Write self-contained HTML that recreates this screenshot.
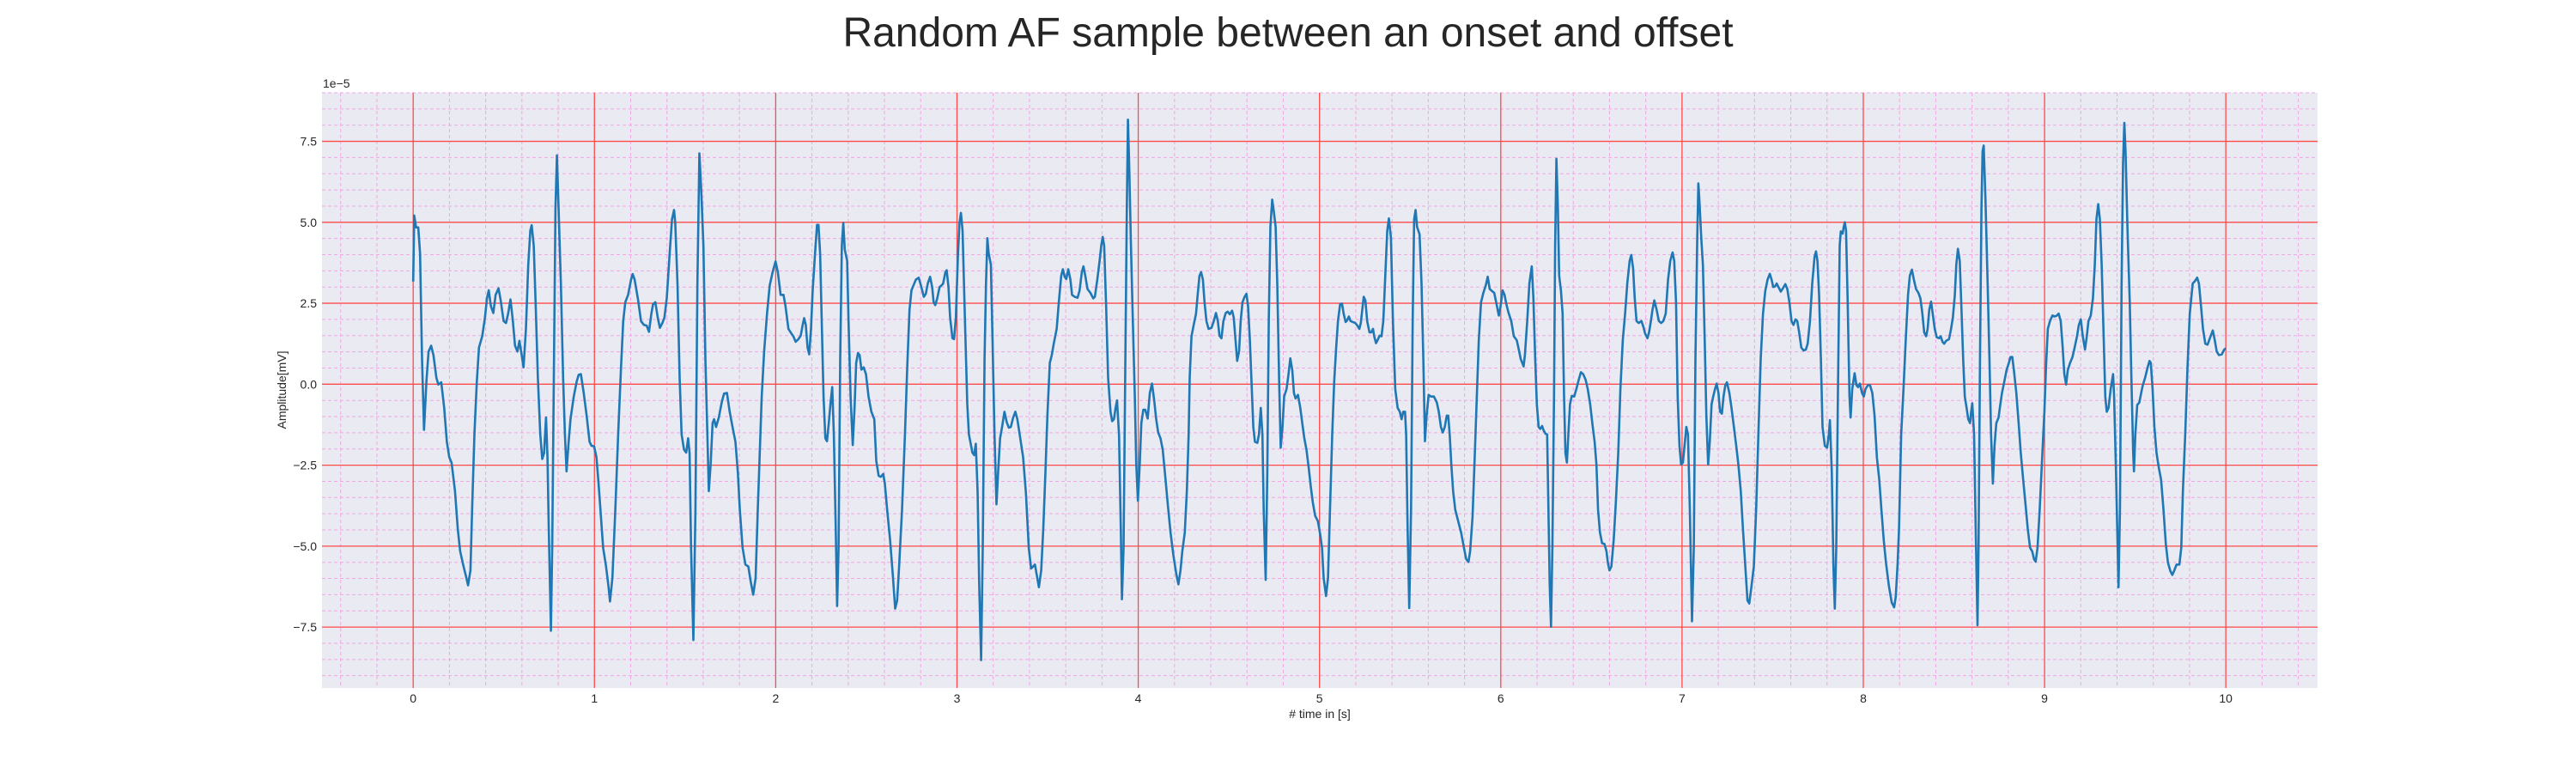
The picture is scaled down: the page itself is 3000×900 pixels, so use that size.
<!DOCTYPE html>
<html><head><meta charset="utf-8"><style>
html,body{margin:0;padding:0;background:#fff;}
svg{display:block;font-family:"Liberation Sans",Arial,sans-serif;}
</style></head><body>
<svg id="chart" width="3000" height="900" viewBox="0 0 3000 900" xmlns="http://www.w3.org/2000/svg">
<rect x="0" y="0" width="3000" height="900" fill="#fff"/>
<text x="1500" y="54" text-anchor="middle" font-size="48" fill="#262626">Random AF sample between an onset and offset</text>
<rect x="375" y="108" width="2324" height="693" fill="#eaeaf2"/>
<g id="minor"></g>
<g id="major"></g>
<g id="ticks"></g>
<text x="376" y="102" font-size="14" fill="#262626">1e−5</text>
<text x="1537" y="836" text-anchor="middle" font-size="14" fill="#262626"># time in [s]</text>
<text transform="translate(333,454) rotate(-90)" text-anchor="middle" font-size="14" fill="#262626">Amplitude[mV]</text>
<path id="sig" fill="none" stroke="#1f77b4" stroke-width="2.6" stroke-linejoin="round"/>
</svg>
<script>
const xTicks=[0,1,2,3,4,5,6,7,8,9,10];
const yTicks=[-7.5,-5.0,-2.5,0.0,2.5,5.0,7.5];
const yTickLabels=["−7.5","−5.0","−2.5","0.0","2.5","5.0","7.5"];
const times=[0.00,0.006,0.016,0.028,0.038,0.049,0.060,0.073,0.085,0.099,0.112,0.128,0.139,0.155,0.171,0.186,0.199,0.212,0.231,0.246,0.259,0.278,0.291,0.303,0.316,0.325,0.338,0.351,0.363,0.381,0.396,0.407,0.417,0.429,0.442,0.455,0.471,0.483,0.499,0.512,0.524,0.537,0.549,0.562,0.575,0.586,0.597,0.609,0.622,0.635,0.646,0.654,0.665,0.676,0.688,0.701,0.712,0.722,0.733,0.741,0.748,0.760,0.767,0.777,0.785,0.793,0.802,0.815,0.827,0.837,0.846,0.856,0.868,0.886,0.902,0.913,0.925,0.941,0.957,0.973,0.984,0.998,1.011,1.023,1.036,1.048,1.064,1.077,1.086,1.099,1.115,1.131,1.147,1.159,1.170,1.186,1.202,1.211,1.222,1.241,1.257,1.273,1.288,1.301,1.314,1.323,1.336,1.349,1.361,1.375,1.386,1.399,1.415,1.428,1.439,1.446,1.458,1.470,1.481,1.494,1.506,1.517,1.525,1.533,1.546,1.557,1.568,1.579,1.589,1.601,1.612,1.623,1.631,1.641,1.652,1.660,1.671,1.686,1.702,1.715,1.731,1.746,1.762,1.778,1.791,1.802,1.817,1.833,1.849,1.862,1.876,1.889,1.901,1.912,1.923,1.936,1.952,1.967,1.983,1.999,2.012,2.027,
2.043,2.054,2.070,2.086,2.097,2.110,2.125,2.138,2.149,2.157,2.166,2.176,2.185,2.195,2.204,2.217,2.228,2.236,2.245,2.255,2.264,2.274,2.283,2.293,2.302,2.312,2.321,2.331,2.339,2.347,2.356,2.365,2.373,2.381,2.394,2.402,2.413,2.425,2.435,2.444,2.454,2.463,2.473,2.485,2.498,2.512,2.528,2.544,2.555,2.568,2.580,2.593,2.602,2.615,2.631,2.647,2.659,2.670,2.681,2.697,2.713,2.726,2.738,2.749,2.760,2.773,2.789,2.801,2.817,2.828,2.839,2.852,2.863,2.871,2.880,2.891,2.904,2.915,2.924,2.936,2.943,2.953,2.962,2.975,2.984,2.994,3.006,3.014,3.022,3.031,3.044,3.057,3.066,3.076,3.085,3.095,3.104,3.114,3.123,3.133,3.142,3.152,3.160,3.168,3.175,3.187,3.196,3.207,3.218,3.227,3.238,3.249,3.262,3.275,3.286,3.297,3.310,3.322,3.333,3.349,3.365,3.381,3.396,3.409,3.420,3.430,3.439,3.452,3.465,3.476,3.488,3.499,3.512,3.523,3.534,3.550,3.562,3.575,3.584,3.594,3.603,3.614,3.626,3.635,3.649,3.665,3.676,3.689,3.698,3.708,3.720,3.736,3.752,3.761,3.774,3.787,3.796,3.804,3.812,3.823,3.834,3.847,3.856,3.866,3.875,3.883,3.894,3.904,3.910,3.919,3.929,3.937,3.943,3.951,3.960,3.970,3.981,3.989,3.998,4.008,4.017,4.028,4.039,4.052,4.064,
4.076,4.088,4.099,4.110,4.123,4.135,4.147,4.162,4.178,4.194,4.210,4.222,4.233,4.243,4.257,4.268,4.278,4.284,4.294,4.306,4.319,4.328,4.338,4.347,4.357,4.366,4.376,4.388,4.404,4.417,4.429,4.439,4.448,4.459,4.470,4.483,4.494,4.505,4.518,4.527,4.537,4.546,4.556,4.565,4.575,4.587,4.597,4.606,4.616,4.625,4.635,4.644,4.657,4.666,4.676,4.685,4.692,4.703,4.712,4.720,4.729,4.739,4.748,4.758,4.767,4.777,4.786,4.796,4.805,4.818,4.829,4.839,4.850,4.859,4.868,4.881,4.894,4.905,4.916,4.928,4.941,4.952,4.963,4.976,4.991,5.004,5.014,5.023,5.036,5.047,5.058,5.070,5.081,5.092,5.102,5.114,5.124,5.133,5.144,5.152,5.162,5.171,5.184,5.197,5.209,5.220,5.228,5.236,5.244,5.253,5.263,5.276,5.285,5.295,5.302,5.312,5.323,5.331,5.342,5.352,5.363,5.374,5.383,5.394,5.405,5.418,5.431,5.443,5.453,5.462,5.472,5.478,5.486,5.495,5.505,5.514,5.522,5.530,5.538,5.552,5.563,5.573,5.582,5.591,5.602,5.615,5.631,5.647,5.658,5.670,5.680,5.691,5.702,5.710,5.718,5.727,5.737,5.749,5.765,5.781,5.797,5.809,5.822,5.831,5.844,5.857,5.868,5.879,5.891,5.904,5.917,5.928,5.939,5.951,5.964,5.977,5.989,5.999,6.010,6.021,6.031,6.043,6.058,6.072,6.088,6.097,6.110,6.126,
6.133,6.146,6.158,6.171,6.180,6.190,6.199,6.209,6.218,6.228,6.237,6.247,6.256,6.263,6.270,6.277,6.285,6.294,6.300,6.307,6.315,6.322,6.332,6.341,6.349,6.357,6.365,6.373,6.382,6.392,6.405,6.417,6.430,6.442,6.455,6.468,6.480,6.493,6.505,6.518,6.528,6.537,6.547,6.559,6.572,6.583,6.591,6.600,6.610,6.623,6.635,6.648,6.660,6.673,6.686,6.698,6.711,6.720,6.730,6.739,6.749,6.761,6.776,6.787,6.796,6.809,6.818,6.828,6.837,6.847,6.860,6.872,6.885,6.897,6.910,6.923,6.935,6.948,6.957,6.967,6.976,6.986,6.995,7.005,7.014,7.024,7.033,7.043,7.055,7.065,7.074,7.084,7.090,7.096,7.106,7.115,7.125,7.134,7.144,7.153,7.163,7.172,7.182,7.191,7.201,7.210,7.220,7.229,7.239,7.248,7.261,7.273,7.286,7.299,7.311,7.324,7.336,7.349,7.361,7.371,7.384,7.396,7.409,7.421,7.434,7.447,7.459,7.472,7.484,7.494,7.503,7.513,7.522,7.532,7.545,7.557,7.570,7.581,7.592,7.604,7.615,7.626,7.636,7.646,7.658,7.671,7.683,7.693,7.706,7.718,7.731,7.739,7.747,7.756,7.766,7.775,7.788,7.800,7.810,7.816,7.826,7.835,7.843,7.851,7.860,7.870,7.876,7.886,7.892,7.898,7.905,7.914,7.924,7.930,7.939,7.952,7.962,7.971,7.981,7.993,8.003,8.012,8.025,8.037,8.050,8.062,8.075,8.088,8.100,8.113,8.125,8.141,8.157,8.170,8.179,8.189,
8.197,8.209,8.222,8.234,8.247,8.257,8.268,8.279,8.291,8.304,8.315,8.326,8.336,8.347,8.355,8.364,8.374,8.383,8.394,8.405,8.418,8.427,8.437,8.446,8.457,8.473,8.484,8.494,8.505,8.513,8.522,8.532,8.541,8.551,8.560,8.570,8.579,8.589,8.595,8.601,8.611,8.620,8.630,8.636,8.644,8.652,8.658,8.664,8.674,8.686,8.696,8.705,8.715,8.724,8.734,8.746,8.756,8.765,8.778,8.790,8.803,8.812,8.822,8.831,8.844,8.857,8.869,8.882,8.894,8.907,8.920,8.932,8.942,8.951,8.961,8.973,8.986,8.999,9.008,9.018,9.030,9.043,9.057,9.068,9.078,9.089,9.100,9.109,9.119,9.128,9.141,9.154,9.166,9.179,9.189,9.200,9.211,9.223,9.233,9.242,9.255,9.267,9.277,9.286,9.296,9.305,9.315,9.326,9.335,9.343,9.353,9.365,9.378,9.384,9.394,9.403,9.408,9.416,9.425,9.433,9.440,9.447,9.457,9.470,9.479,9.489,9.493,9.501,9.511,9.523,9.533,9.542,9.555,9.567,9.579,9.586,9.596,9.606,9.618,9.631,9.643,9.656,9.669,9.681,9.694,9.705,9.716,9.728,9.744,9.754,9.763,9.776,9.789,9.801,9.817,9.830,9.842,9.852,9.863,9.874,9.887,9.899,9.912,9.928,9.937,9.950,9.962,9.978,9.991,10.000];
const amps=[3.17,5.21,4.84,4.84,4.04,0.78,-1.41,0.08,1.01,1.19,0.90,0.20,-0.01,0.06,-0.73,-1.78,-2.25,-2.42,-3.30,-4.46,-5.16,-5.63,-5.92,-6.21,-5.75,-3.88,-1.55,0.08,1.13,1.48,2.06,2.65,2.90,2.41,2.20,2.76,2.96,2.59,1.95,1.89,2.18,2.62,2.00,1.19,1.01,1.34,0.96,0.52,1.71,3.69,4.74,4.91,4.28,2.41,0.20,-1.55,-2.31,-2.13,-1.03,-2.25,-4.46,-7.61,-5.05,0.78,5.44,7.07,5.44,3.11,0.20,-1.55,-2.69,-1.90,-1.08,-0.38,0.08,0.29,0.31,-0.27,-0.97,-1.78,-1.90,-1.92,-2.25,-3.07,-4.11,-5.05,-5.63,-6.21,-6.71,-5.98,-3.88,-1.55,0.55,1.95,2.53,2.76,3.23,3.40,3.23,2.59,1.95,1.83,1.81,1.62,2.18,2.47,2.53,2.06,1.74,1.89,2.06,2.65,4.04,5.09,5.38,4.98,3.11,0.20,-1.55,-2.02,-2.11,-1.67,-2.13,-5.05,-7.90,-3.88,3.11,7.13,6.03,4.28,0.78,-1.55,-3.30,-2.48,-1.20,-1.08,-1.32,-1.03,-0.56,-0.29,-0.27,-0.85,-1.32,-1.78,-2.72,-3.88,-5.05,-5.57,-5.63,-6.10,-6.50,-5.98,-3.88,-2.13,-0.38,1.01,2.18,3.05,3.46,3.79,3.46,2.76,
2.76,2.41,1.71,1.57,1.48,1.31,1.39,1.50,1.83,2.04,1.83,1.13,0.92,1.71,2.88,4.04,4.92,4.92,4.04,1.71,-0.38,-1.67,-1.76,-1.20,-0.62,-0.09,-1.55,-4.46,-6.85,-5.05,0.78,4.28,4.98,4.16,3.81,1.95,-0.38,-1.88,-0.73,0.66,0.96,0.90,0.45,0.52,0.31,-0.38,-0.85,-1.08,-2.37,-2.83,-2.86,-2.77,-3.07,-3.88,-4.81,-5.98,-6.93,-6.68,-5.63,-3.88,-1.55,0.55,2.30,2.90,3.05,3.23,3.29,3.05,2.70,2.79,3.11,3.32,3.00,2.53,2.44,2.65,3.00,3.05,3.11,3.46,3.52,3.00,2.06,1.42,1.39,2.06,4.04,4.98,5.29,4.74,1.95,-0.62,-1.55,-1.84,-2.11,-2.19,-1.84,-3.30,-6.21,-8.52,-5.05,0.78,3.11,4.51,4.04,3.69,1.36,-1.55,-3.71,-2.72,-1.67,-1.32,-0.85,-1.18,-1.34,-1.32,-1.03,-0.85,-1.08,-1.67,-2.25,-3.41,-5.05,-5.69,-5.63,-5.57,-5.86,-6.27,-5.75,-4.46,-2.72,-0.97,0.66,0.90,1.25,1.71,2.53,3.35,3.55,3.32,3.25,3.55,3.23,2.76,2.70,2.67,2.88,3.46,3.64,3.35,2.94,2.82,2.65,2.70,3.23,3.81,4.28,4.55,4.28,2.41,0.20,-0.85,-1.14,-1.08,-0.73,-0.50,-1.55,-4.46,-6.64,-5.05,0.78,5.44,8.17,6.61,4.28,1.95,-0.38,-2.48,-3.60,-2.48,-1.20,-0.79,-0.79,-1.06,-0.27,
0.02,-0.50,-1.08,-1.49,-1.67,-2.02,-2.72,-3.65,-4.58,-5.28,-5.86,-6.18,-5.75,-5.16,-4.58,-3.30,-1.55,0.20,1.48,1.83,2.18,2.76,3.35,3.46,3.23,2.53,1.95,1.71,1.74,1.95,2.20,1.95,1.50,1.42,1.95,2.20,2.24,2.16,2.27,2.06,1.36,0.72,1.01,1.95,2.53,2.70,2.79,2.41,1.36,0.08,-1.32,-1.78,-1.81,-1.55,-0.73,-1.55,-3.88,-6.04,-2.72,1.95,4.86,5.70,5.33,4.86,3.11,0.20,-1.96,-1.32,-0.38,-0.15,0.31,0.80,0.43,-0.27,-0.44,-0.33,-0.73,-1.20,-1.67,-2.02,-2.60,-3.18,-3.65,-4.06,-4.23,-4.64,-5.05,-5.98,-6.54,-5.98,-3.88,-1.55,0.08,1.13,1.95,2.47,2.49,2.18,1.92,1.97,2.09,1.95,1.92,1.89,1.81,1.71,1.89,2.30,2.70,2.59,1.95,1.60,1.60,1.71,1.48,1.27,1.39,1.50,1.48,1.95,3.35,4.74,5.12,4.51,1.95,-0.15,-0.73,-0.85,-1.08,-0.85,-0.85,-1.55,-4.46,-6.91,-3.88,1.95,5.09,5.38,4.86,4.63,3.11,0.78,-1.76,-0.97,-0.33,-0.38,-0.38,-0.56,-0.85,-1.32,-1.49,-1.32,-0.97,-0.97,-1.55,-2.48,-3.30,-3.88,-4.23,-4.58,-5.05,-5.40,-5.49,-5.16,-4.11,-2.13,-0.38,1.36,2.53,2.82,3.05,3.32,2.94,2.88,2.82,2.47,2.12,2.41,2.90,2.76,2.47,2.20,1.95,1.48,1.36,1.13,0.78,0.55,
0.90,1.95,3.11,3.64,2.65,0.78,-0.62,-1.32,-1.38,-1.29,-1.43,-1.53,-1.55,-3.88,-6.21,-7.49,-5.05,-0.38,4.28,6.96,5.44,3.35,2.88,2.18,-0.38,-2.13,-2.42,-1.55,-0.62,-0.36,-0.38,-0.15,0.14,0.37,0.31,0.14,-0.15,-0.62,-1.20,-1.78,-2.48,-3.88,-4.58,-4.91,-4.93,-5.16,-5.51,-5.75,-5.63,-4.81,-3.65,-2.13,-0.15,1.36,2.18,3.11,3.81,3.99,3.58,2.65,1.95,1.89,1.95,1.77,1.57,1.42,1.60,1.95,2.30,2.59,2.30,1.95,1.89,1.95,2.18,3.23,3.81,4.07,3.81,2.53,-0.38,-1.90,-2.48,-2.42,-1.90,-1.32,-1.55,-3.88,-7.32,-5.05,0.78,4.51,6.20,5.68,4.51,3.69,1.36,-0.97,-2.48,-1.78,-0.62,-0.38,-0.15,0.02,-0.27,-0.85,-0.91,-0.38,-0.03,0.06,-0.27,-0.73,-1.32,-1.90,-2.48,-3.30,-4.46,-5.63,-6.68,-6.77,-6.21,-5.63,-3.88,-1.55,0.78,2.18,2.88,3.23,3.41,3.23,3.00,3.02,3.11,3.00,2.86,2.97,3.09,2.94,2.53,1.95,1.83,2.00,1.95,1.60,1.13,1.04,1.07,1.25,1.95,3.11,3.93,4.10,3.81,2.76,0.78,-1.32,-1.90,-1.96,-1.55,-1.11,-2.72,-5.63,-6.93,-5.05,-0.38,4.28,4.72,4.65,4.86,5.00,4.74,2.53,-0.38,-1.03,-0.15,0.34,-0.03,-0.09,0.02,-0.27,-0.38,-0.15,-0.03,-0.03,-0.27,-0.97,-2.25,-2.95,-3.88,-4.81,-5.51,-6.21,-6.74,-6.89,-6.56,-5.57,
-4.46,-1.55,-0.15,1.36,2.76,3.35,3.54,3.23,2.94,2.82,2.65,2.18,1.60,1.48,1.71,2.30,2.55,2.18,1.71,1.45,1.42,1.48,1.31,1.25,1.34,1.39,1.71,2.06,2.76,3.69,4.18,3.81,2.41,0.78,-0.38,-0.73,-1.08,-1.20,-0.85,-0.59,-1.55,-4.46,-7.44,-5.05,0.78,5.44,7.19,7.37,5.68,3.11,0.78,-1.55,-3.07,-1.90,-1.20,-1.03,-0.62,-0.27,0.08,0.43,0.66,0.84,0.84,0.43,-0.27,-1.20,-2.13,-2.95,-3.65,-4.46,-5.05,-5.16,-5.40,-5.48,-5.05,-3.88,-2.37,-0.85,0.55,1.71,1.95,2.12,2.09,2.12,2.18,1.95,1.13,0.31,-0.01,0.43,0.66,0.84,1.13,1.48,1.83,2.00,1.48,1.07,1.48,1.95,2.12,2.65,3.69,5.09,5.56,5.09,3.69,1.48,-0.38,-0.85,-0.73,-0.15,0.31,-0.38,-2.72,-5.05,-6.27,-3.88,3.11,6.84,8.07,7.19,4.86,2.53,0.20,-2.13,-2.69,-1.55,-0.64,-0.56,-0.27,-0.03,0.20,0.49,0.72,0.66,-0.15,-1.32,-2.13,-2.60,-2.95,-3.88,-4.93,-5.51,-5.77,-5.89,-5.75,-5.57,-5.57,-5.05,-3.30,-1.55,0.55,2.18,3.11,3.19,3.29,3.11,2.41,1.71,1.25,1.22,1.42,1.66,1.42,1.01,0.90,0.92,1.07,1.11];

const NS="http://www.w3.org/2000/svg";
const X0=375,X1=2699,Y0=108,Y1=801;
const xMin=-0.503,xMax=10.506,yMin=-9.38,yMax=9.0;
function sx(t){return X0+(t-xMin)/(xMax-xMin)*(X1-X0);}
function sy(v){return Y1-(v-yMin)/(yMax-yMin)*(Y1-Y0);}
function mk(tag,attrs,parent){const e=document.createElementNS(NS,tag);for(const k in attrs)e.setAttribute(k,attrs[k]);parent.appendChild(e);return e;}
const minor=document.getElementById('minor'),major=document.getElementById('major'),ticks=document.getElementById('ticks');
for(let i=-2;i<=52;i++){const t=i*0.2;if(i%5===0)continue;const X=sx(t);if(X<X0||X>X1)continue;
 const l=mk('line',{x1:X,x2:X,y1:Y0,y2:Y1,stroke:'#f2a6e4','stroke-width':1,'stroke-dasharray':'4,3'},minor);
 
 }
for(let i=-19;i<=18;i++){const v=i*0.5;if(i%5===0)continue;const Y=sy(v);if(Y<Y0||Y>Y1)continue;
 const l=mk('line',{x1:X0,x2:X1,y1:Y,y2:Y,stroke:'#f2a6e4','stroke-width':1,'stroke-dasharray':'4,3'},minor);
 
 }
xTicks.forEach(t=>{const X=sx(t);
 const l=mk('line',{x1:X,x2:X,y1:Y0,y2:Y1,stroke:'#ff4a4a','stroke-width':1.3},major);
 
 
 const tx=mk('text',{x:X,y:Y1+17,'text-anchor':'middle','font-size':14,fill:'#262626'},ticks);tx.textContent=String(t);
 
 });
yTicks.forEach((v,i)=>{const Y=sy(v);
 const l=mk('line',{x1:X0,x2:X1,y1:Y,y2:Y,stroke:'#ff4a4a','stroke-width':1.3},major);
 
 
 const tx=mk('text',{x:X0-6,y:Y+5,'text-anchor':'end','font-size':14,fill:'#262626'},ticks);tx.textContent=yTickLabels[i];
 
 });
let d='';for(let i=0;i<times.length&&i<amps.length;i++){d+=(i?'L':'M')+sx(times[i]).toFixed(1)+','+sy(amps[i]).toFixed(1);}
document.getElementById('sig').setAttribute('d',d);
</script>
</body></html>
